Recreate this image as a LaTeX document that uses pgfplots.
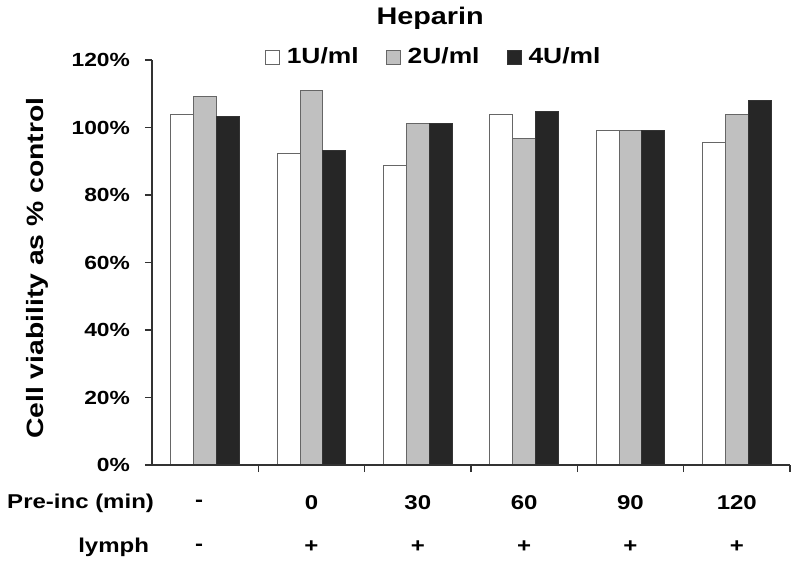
\documentclass[border=0pt]{standalone}
\usepackage{fontspec}
\setmainfont{Liberation Sans}[FakeStretch=1.2]
\usepackage{pgfplots}
\pgfplotsset{compat=1.18}
\definecolor{barGray}{RGB}{192,192,192}
\definecolor{barDark}{RGB}{38,38,38}
\definecolor{lineGray}{RGB}{50,50,50}
\newcommand{\catlab}[4][0pt]{%
  \path (axis cs:#2,0) ++(#1,-19pt) node[font=\bfseries\fontsize{10}{12}\selectfont] {#3};
  \path (axis cs:#2,0) ++(#1,-41pt) node[font=\bfseries\fontsize{10}{12}\selectfont] {#4};}
\begin{document}
\begin{tikzpicture}
\path[use as bounding box] (0,0) rectangle (400pt,284.5pt);
\begin{axis}[
  at={(76pt,52pt)}, anchor=south west,
  scale only axis, width=319pt, height=202.5pt,
  xmin=-0.5, xmax=5.5, ymin=0, ymax=120,
  clip=false, axis on top,
  axis x line*=bottom, axis y line*=left,
  axis line style={lineGray, line width=0.8pt},
  tick style={lineGray, line width=0.8pt},
  tick align=outside, major tick length=3.5pt,
  xtick={0.5,1.5,2.5,3.5,4.5,5.5}, xticklabels={},
  ytick={0,20,40,60,80,100,120},
  yticklabel={\pgfmathprintnumber{\tick}\%},
  /pgf/number format/assume math mode=true,
  yticklabel style={font=\bfseries\fontsize{9.5}{11}\selectfont, xshift=-4pt},
  ybar=0pt, bar width=0.216,
  legend columns=3,
  legend style={at={(rel axis cs:0.443,1.007)}, anchor=center, draw=none, fill=none,
    font=\bfseries\fontsize{11}{13}\selectfont,
    /tikz/every even column/.append style={column sep=11.5pt}},
  legend image code/.code={\draw[#1, line width=0.5pt] (0pt,-3.5pt) rectangle (7pt,3.5pt); \path (8.5pt,0pt);},
]
\addplot[fill=white, draw=black!60, line width=0.5pt] coordinates {(0,103.8) (1,92.2) (2,88.7) (3,103.8) (4,99.2) (5,95.7)};
\addplot[fill=barGray, draw=black!60, line width=0.5pt] coordinates {(0,109.3) (1,111.1) (2,101.1) (3,96.7) (4,99.2) (5,103.8)};
\addplot[fill=barDark, draw=black!80, line width=0.5pt] coordinates {(0,103.2) (1,93.1) (2,101.1) (3,104.7) (4,99.2) (5,108.1)};
\legend{1U/ml, 2U/ml, 4U/ml}
\path (rel axis cs:0.436,1.104) node[font=\bfseries\fontsize{12}{14}\selectfont] {Heparin};
\path (rel axis cs:0,0.486) ++(-57.5pt,0pt) node[rotate=90, font=\bfseries\fontsize{11.8}{13}\selectfont] {Cell viability as \% control};
\path (rel axis cs:0,0) ++(4.5pt,-19pt) node[anchor=east, font=\bfseries\fontsize{10}{12}\selectfont] {Pre-inc (min)};
\path (rel axis cs:0,0) ++(2pt,-41pt) node[anchor=east, font=\bfseries\fontsize{10}{12}\selectfont] {lymph};
\catlab[-3pt]{0}{-}{-}
\catlab{1}{0}{+}
\catlab{2}{30}{+}
\catlab{3}{60}{+}
\catlab{4}{90}{+}
\catlab{5}{120}{+}
\end{axis}
\end{tikzpicture}
\end{document}
